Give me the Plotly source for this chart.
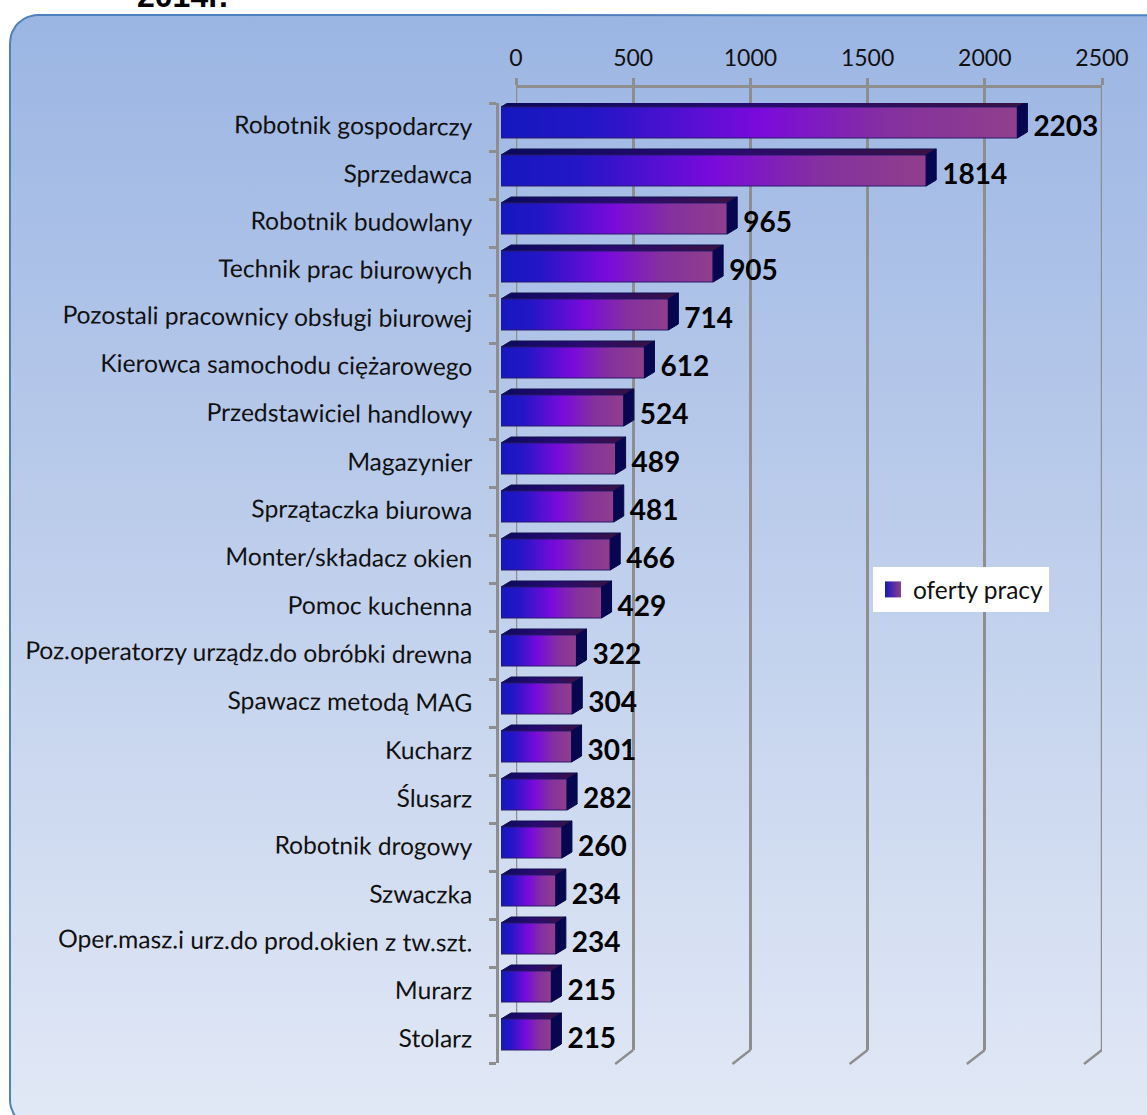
import math
import plotly.graph_objects as go

categories = ["Robotnik gospodarczy", "Sprzedawca", "Robotnik budowlany", "Technik prac biurowych",
              "Pozostali pracownicy obsługi biurowej", "Kierowca samochodu ciężarowego",
              "Przedstawiciel handlowy", "Magazynier", "Sprzątaczka biurowa", "Monter/składacz okien",
              "Pomoc kuchenna", "Poz.operatorzy urządz.do obróbki drewna", "Spawacz metodą MAG",
              "Kucharz", "Ślusarz", "Robotnik drogowy", "Szwaczka",
              "Oper.masz.i urz.do prod.okien z tw.szt.", "Murarz", "Stolarz"]
values = [2203, 1814, 965, 905, 714, 612, 524, 489, 481, 466, 429, 322, 304, 301, 282, 260, 234, 234, 215, 215]
x_ticks = [0, 500, 1000, 1500, 2000, 2500]
series_name = "oferty pracy"
clipped_title = "2014r."

W, H = 1147, 1115
GREY = "#8E8E8E"
INK = "#111111"
FONT = "Lato"
BACK = dict(l=516, r=1102, t=88, b=1050)     # rear wall of the 3-D box
FRONT = dict(l=501, r=1087, t=103, b=1063)   # front plane holding the bars
AXIS_X = 497

pxu = 2500 / (FRONT["r"] - FRONT["l"])       # value units per pixel
row = (FRONT["b"] - FRONT["t"]) / len(values)
dx, dy = 10 * pxu, 6 / row                   # depth of a bar
top_off, bot_off = -0.5 + 4 / row, -0.5 + 35 / row

FRONT_SCALE = [[0, "#1518BE"], [0.18, "#2316C6"], [0.5, "#7A0ADC"], [0.75, "#85309F"], [1, "#8F3F8C"]]
TOP_SCALE = [[0, "#0A0A5E"], [0.5, "#2A0A72"], [1, "#3A1240"]]
SIDE = "#07074F"

fig = go.Figure()

# rounded background panel, in page pixels
L, T, R, B, rad = 10, 15, 1175, 1128, 28
corners = [(L + rad, T + rad, 180, 270), (R - rad, T + rad, 270, 360), (R - rad, B - rad, 0, 90), (L + rad, B - rad, 90, 180)]
px, py = [], []
for cx, cy, a0, a1 in corners:
    for i in range(13):
        a = math.radians(a0 + (a1 - a0) * i / 12)
        px.append(cx + rad * math.cos(a))
        py.append(cy + rad * math.sin(a))
px.append(px[0]); py.append(py[0])
fig.add_trace(go.Scatter(x=px, y=py, mode="lines", fill="toself", line=dict(color="#4F81BD", width=2),
                         fillgradient=dict(type="vertical", start=T, stop=B,
                                           colorscale=[[0, "#9BB5E3"], [0.5, "#BFCFEC"], [1, "#E2E9F6"]]),
                         hoverinfo="skip", showlegend=False, xaxis="x", yaxis="y"))

# the two outer wall lines, which the axis grid leaves out at its ends
for tv in (x_ticks[0], x_ticks[-1]):
    fig.add_trace(go.Scatter(x=[tv, tv], y=[0, 1], mode="lines", line=dict(color=GREY, width=2.5),
                             cliponaxis=False, hoverinfo="skip", showlegend=False, xaxis="x2", yaxis="y2"))

# bars
for k, v in enumerate(values):
    t, b = k + top_off, k + bot_off
    fig.add_trace(go.Scatter(x=[0, v, v + dx, dx, 0], y=[t, t, t - dy, t - dy, t], mode="lines", fill="toself",
                             line=dict(color="#10104E", width=1),
                             fillgradient=dict(type="horizontal", colorscale=TOP_SCALE),
                             hoverinfo="skip", showlegend=False, xaxis="x3", yaxis="y3"))
    fig.add_trace(go.Scatter(x=[0, v, v, 0, 0], y=[t, t, b, b, t], mode="lines", fill="toself",
                             line=dict(color="#2A1A6A", width=1),
                             fillgradient=dict(type="horizontal", colorscale=FRONT_SCALE),
                             hovertemplate=f"{categories[k]}: {v}<extra></extra>",
                             showlegend=False, xaxis="x3", yaxis="y3"))
    fig.add_trace(go.Scatter(x=[v, v + dx, v + dx, v, v], y=[t, t - dy, b - dy, b, t], mode="lines", fill="toself",
                             fillcolor=SIDE, line=dict(color=SIDE, width=1),
                             hoverinfo="skip", showlegend=False, xaxis="x3", yaxis="y3"))

# value labels
fig.add_trace(go.Scatter(x=[v + dx + 6 * pxu for v in values], y=[k + 0.05 for k in range(len(values))], mode="text",
                         text=[str(v) for v in values], textposition="middle right", cliponaxis=False,
                         textfont=dict(family=FONT, size=28, color="#000000", weight="bold"),
                         hoverinfo="skip", showlegend=False, xaxis="x3", yaxis="y3"))

# legend key
fig.add_trace(go.Scatter(x=[None], y=[None], mode="markers", name=series_name,
                         marker=dict(symbol="square", size=16, color="#1518BE",
                                     gradient=dict(type="horizontal", color="#8F3F8C")),
                         xaxis="x3", yaxis="y3"))

# slanted floor and corner lines of the box
shape_line = dict(color=GREY, width=2.5)
shapes = []
for tv in x_ticks:
    shapes.append(dict(type="line", xref="x2", yref="paper", xsizemode="pixel", xanchor=tv,
                       x0=0, x1=-18, ysizemode="pixel", yanchor=1 - BACK["b"] / H, y0=0, y1=-14, line=shape_line))
shapes.append(dict(type="line", xref="x2", yref="paper", xsizemode="pixel", xanchor=0,
                   x0=0, x1=-19, ysizemode="pixel", yanchor=1 - BACK["t"] / H, y0=0, y1=-15, line=shape_line))
fig.update_layout(shapes=shapes)

fig.update_layout(
    width=W, height=H, margin=dict(l=0, r=0, t=0, b=0, autoexpand=False),
    paper_bgcolor="#FFFFFF", plot_bgcolor="rgba(0,0,0,0)",
    font=dict(family=FONT, color=INK),
    xaxis=dict(domain=[0, 1], range=[0, W], visible=False, fixedrange=True),
    yaxis=dict(domain=[0, 1], range=[H, 0], visible=False, fixedrange=True),
    xaxis2=dict(domain=[BACK["l"] / W, BACK["r"] / W], range=[0, 2500], anchor="y2", side="top",
                tickvals=x_ticks, showgrid=True, gridcolor=GREY, gridwidth=2.5, zeroline=False,
                showline=True, linecolor=GREY, linewidth=2.5, ticks="outside", ticklen=7, tickwidth=2.5,
                tickcolor=GREY, ticklabelstandoff=3, tickfont=dict(family=FONT, size=23, color=INK)),
    yaxis2=dict(domain=[1 - BACK["b"] / H, 1 - BACK["t"] / H], range=[0, 1], anchor="x2", visible=False),
    xaxis3=dict(domain=[FRONT["l"] / W, FRONT["r"] / W], range=[0, 2500], anchor="y3", visible=False),
    yaxis3=dict(domain=[1 - FRONT["b"] / H, 1 - FRONT["t"] / H], range=[len(values) - 0.5, -0.5],
                anchor="free", position=AXIS_X / W, side="left",
                tickvals=list(range(len(values))), ticktext=categories, tickangle=0.6,
                ticks="outside", ticklen=19, tickwidth=0, tickcolor="rgba(0,0,0,0)",
                tickfont=dict(family=FONT, size=24.6, color=INK),
                showgrid=False, zeroline=False, showline=True, linecolor=GREY, linewidth=2.5,
                minor=dict(tickvals=[k - 0.5 for k in range(len(values) + 1)], ticks="outside",
                           ticklen=7, tickwidth=2.5, tickcolor=GREY, showgrid=False)),
    legend=dict(x=873 / W, y=1 - 567 / H, xanchor="left", yanchor="top", bgcolor="#FFFFFF", borderwidth=0,
                font=dict(family=FONT, size=24.5, color=INK)),
    annotations=[dict(text=f"<b>{clipped_title}</b>", xref="x", yref="y", x=135, y=16, xanchor="left",
                      yanchor="bottom", showarrow=False, font=dict(family="Liberation Sans", size=32, color="#000000"))],
)

fig.write_html("out.html", post_script="document.body.style.margin='0';", config=dict(displayModeBar=False))
